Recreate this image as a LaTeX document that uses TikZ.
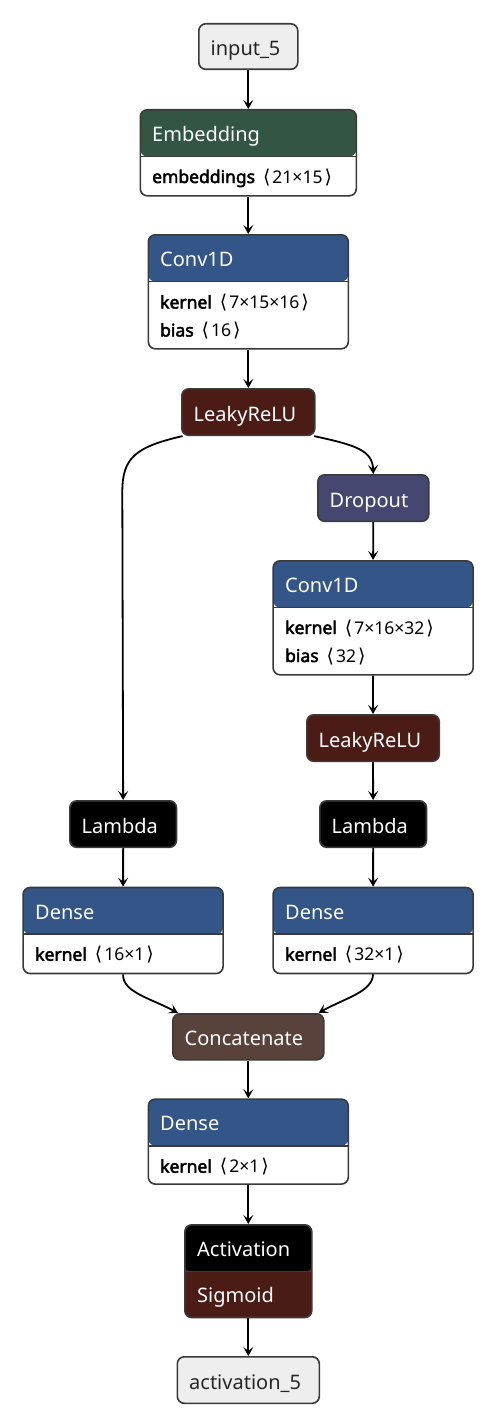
\documentclass[tikz,border=0pt]{standalone}
\usepackage{fontspec}
\setmainfont{Noto Sans}[BoldFont=*, BoldFeatures={FakeBold=2.6}]
\newfontfamily\symfont{DejaVu Sans}
\usetikzlibrary{arrows.meta}
\definecolor{bordc}{HTML}{3A3A3A}
\definecolor{inpc}{HTML}{EEEEEE}
\definecolor{transc}{HTML}{335544}
\definecolor{layerc}{HTML}{335588}
\definecolor{actc}{HTML}{4B1B16}
\definecolor{dropc}{HTML}{454770}
\definecolor{tensc}{HTML}{59423B}
\newcommand\angL{\hspace{8pt}{\fontsize{19}{19}\symfont ⟨}\hspace{2pt}}
\newcommand\angR{\hspace{2pt}{\fontsize{19}{19}\symfont ⟩}}
\begin{document}
\begin{tikzpicture}[x=1pt,y=-1pt,
  box/.style={draw=bordc, line width=1.6pt, rounded corners=7pt, inner sep=0pt, anchor=north west},
  hdr/.style={path picture={\fill[#1] (path picture bounding box.north west) rectangle ([yshift=-46.7pt]path picture bounding box.north east);
      \draw[bordc, line width=1.6pt] ([yshift=-46.7pt]path picture bounding box.north west) -- ([yshift=-46.7pt]path picture bounding box.north east);}},
  ttl/.style={anchor=base west, inner sep=0pt, font=\fontsize{20}{23}\selectfont, text=white},
  bdy/.style={anchor=base west, inner sep=0pt, font=\fontsize{17.5}{20}\selectfont, text=black},
  edge/.style={draw=black, line width=1.8pt, -{Stealth[length=9pt,width=10pt,inset=4pt]}}
]
\useasboundingbox[fill=white] (0,0) rectangle (496,1426);

% input
\node[box, fill=inpc, minimum width=99, minimum height=45.5] (in) at (198,23) {};
\node[ttl, text=black!85] (inT) at ([xshift=12.5pt,yshift=-9pt]in.west) {input\_5};

% Embedding
\node[box, fill=white, hdr=transc, minimum width=216, minimum height=86] (emb) at (139.5,109) {};
\node[ttl] (embT) at (152,141.3) {Embedding};
\node[bdy] (embB) at (152,183) {\textbf{embeddings}\angL21×15\angR};

% Conv1D 1
\node[box, fill=white, hdr=layerc, minimum width=200, minimum height=114] (c1) at (147.5,234) {};
\node[ttl] (c1T) at (160,266.3) {Conv1D};
\node[bdy] (c1a) at (160,308.5) {\textbf{kernel}\angL7×15×16\angR};
\node[bdy] (c1b) at (160,336.5) {\textbf{bias}\angL16\angR};

% LeakyReLU 1
\node[box, fill=actc, minimum width=133, minimum height=46.5] (lr1) at (181,388) {};
\node[ttl] (lr1T) at ([xshift=12.5pt,yshift=-9pt]lr1.west) {LeakyReLU};

% Dropout
\node[box, fill=dropc, minimum width=111, minimum height=46.5] (drop) at (317,474) {};
\node[ttl] (dropT) at ([xshift=12.5pt,yshift=-9pt]drop.west) {Dropout};

% Conv1D 2
\node[box, fill=white, hdr=layerc, minimum width=200, minimum height=114] (c2) at (272.3,560) {};
\node[ttl] (c2T) at (285,592.3) {Conv1D};
\node[bdy] (c2a) at (285,634) {\textbf{kernel}\angL7×16×32\angR};
\node[bdy] (c2b) at (285,662) {\textbf{bias}\angL32\angR};

% LeakyReLU 2
\node[box, fill=actc, minimum width=132.5, minimum height=46.5] (lr2) at (306,714) {};
\node[ttl] (lr2T) at ([xshift=12.5pt,yshift=-9pt]lr2.west) {LeakyReLU};

% Lambdas
\node[box, fill=black, minimum width=106.7, minimum height=46.5] (lamL) at (69,800) {};
\node[ttl] (lamLT) at ([xshift=12.5pt,yshift=-9pt]lamL.west) {Lambda};
\node[box, fill=black, minimum width=106.7, minimum height=46.5] (lamR) at (319,800) {};
\node[ttl] (lamRT) at ([xshift=12.5pt,yshift=-9pt]lamR.west) {Lambda};

% Dense L / R
\node[box, fill=white, hdr=layerc, minimum width=200, minimum height=86] (dL) at (22.3,886.7) {};
\node[ttl] (dLT) at (35,919) {Dense};
\node[bdy] (dLb) at (35,960.7) {\textbf{kernel}\angL16×1\angR};
\node[box, fill=white, hdr=layerc, minimum width=200, minimum height=86] (dR) at (272.3,886.7) {};
\node[ttl] (dRT) at (285,919) {Dense};
\node[bdy] (dRb) at (285,960.7) {\textbf{kernel}\angL32×1\angR};

% Concatenate
\node[box, fill=tensc, minimum width=151, minimum height=46] (cat) at (172,1013) {};
\node[ttl] (catT) at ([xshift=12.5pt,yshift=-9pt]cat.west) {Concatenate};

% Dense bottom
\node[box, fill=white, hdr=layerc, minimum width=200, minimum height=85] (dB) at (147.5,1098.3) {};
\node[ttl] (dBT) at (160,1130.6) {Dense};
\node[bdy] (dBb) at (160,1172.7) {\textbf{kernel}\angL2×1\angR};

% Activation
\node[box, fill=actc, minimum width=127, minimum height=92.7,
  path picture={\fill[black] (path picture bounding box.north west) rectangle ([yshift=-46.7pt]path picture bounding box.north east);
  \draw[bordc, line width=1.6pt] ([yshift=-46.7pt]path picture bounding box.north west) -- ([yshift=-46.7pt]path picture bounding box.north east);}] (act) at (184,1224) {};
\node[ttl] (actT) at (197,1256.5) {Activation};
\node[ttl] (actS) at (197,1302) {Sigmoid};

% output
\node[box, fill=inpc, minimum width=142, minimum height=46.5] (out) at (176.5,1356) {};
\node[ttl, text=black!85] (outT) at ([xshift=12.5pt,yshift=-9pt]out.west) {activation\_5};

% edges
\draw[edge] (in.south) -- (emb.north);
\draw[edge] (emb.south) -- (c1.north);
\draw[edge] (c1.south) -- (lr1.north);
\draw[edge] ([xshift=1.5pt]lr1.south west) .. controls (135,447) and (122.3,458) .. (122.3,492) -- (lamL.north);
\draw[edge] ([xshift=-1.5pt]lr1.south east) .. controls (355,445) and (372.5,450) .. (drop.north);
\draw[edge] (drop.south) -- (c2.north);
\draw[edge] (c2.south) -- (lr2.north);
\draw[edge] (lr2.south) -- (lamR.north);
\draw[edge] (lamL.south) -- (dL.north);
\draw[edge] (lamR.south) -- (dR.north);
\draw[edge] (dL.south) .. controls (122.3,992) and (150,998) .. ([xshift=6pt]cat.north west);
\draw[edge] (dR.south) .. controls (372.3,992) and (345,998) .. ([xshift=-6pt]cat.north east);
\draw[edge] (cat.south) -- (dB.north);
\draw[edge] (dB.south) -- (act.north);
\draw[edge] (act.south) -- (out.north);
\end{tikzpicture}
\end{document}
